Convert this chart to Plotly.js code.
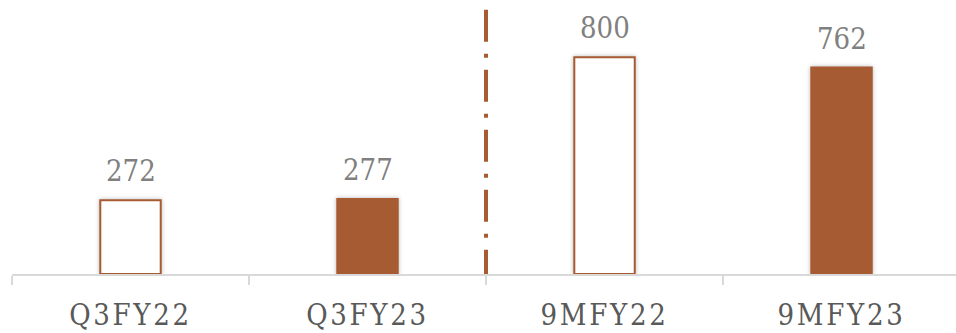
<!DOCTYPE html>
<html>
<head>
<meta charset="utf-8">
<script src="https://cdn.plot.ly/plotly-3.0.1.min.js"></script>
<style>
  html, body { margin: 0; padding: 0; background: #ffffff; }
  #chart { width: 956px; height: 333px; }
  .xtick text { letter-spacing: 2.7px; }
  .bars .point path { filter: drop-shadow(0px 0px 2px rgba(0,0,0,0.28)); }
</style>
</head>
<body>
<div id="chart"></div>
<script>
// Periods and their values
const categories = ['Q3FY22', 'Q3FY23', '9MFY22', '9MFY23'];
const values = [272, 277, 800, 762];
// Prior-year periods are drawn hollow, current-year periods filled
const fillColors = ['#ffffff', '#A65B32', '#ffffff', '#A65B32'];

const BROWN = '#A65B32';
const FONT = '"DejaVu Serif Condensed", "DejaVu Serif", serif';

const trace = {
  type: 'bar',
  x: categories,
  y: values,
  marker: {
    color: fillColors,
    line: { color: BROWN, width: 2 }
  },
  hoverinfo: 'skip',
  cliponaxis: false
};

// Value labels sit just above each bar
const annotations = categories.map((c, i) => ({
  x: c,
  y: values[i],
  xref: 'x',
  yref: 'y',
  text: String(values[i]),
  showarrow: false,
  yanchor: 'bottom',
  yshift: 10,
  font: { family: FONT, size: 29, color: '#808080' }
}));

const layout = {
  width: 956,
  height: 333,
  margin: { l: 12, r: 0, t: 3, b: 59 },
  paper_bgcolor: '#ffffff',
  plot_bgcolor: '#ffffff',
  showlegend: false,
  bargap: 0.745,
  xaxis: {
    type: 'category',
    range: [-0.5, 3.483],
    showline: true,
    linecolor: '#d9d9d9',
    linewidth: 1.5,
    ticks: 'outside',
    tickson: 'boundaries',
    ticklen: 9,
    tickwidth: 1.5,
    tickcolor: '#d9d9d9',
    ticklabelstandoff: 15,
    showgrid: false,
    zeroline: false,
    tickfont: { family: FONT, size: 29, color: '#595959' },
    fixedrange: true
  },
  yaxis: {
    range: [0, 1000],
    visible: false,
    showgrid: false,
    zeroline: false,
    fixedrange: true
  },
  annotations: annotations,
  shapes: [{
    // divider between quarterly and nine-month figures, patterned from the top down
    type: 'line',
    xref: 'x',
    yref: 'y',
    x0: 1.5, x1: 1.5,
    y0: 975, y1: 0,
    line: { color: BROWN, width: 4, dash: '32px,12px,4px,12px' }
  }]
};

Plotly.newPlot('chart', [trace], layout, { displayModeBar: false, staticPlot: true });
</script>
</body>
</html>
